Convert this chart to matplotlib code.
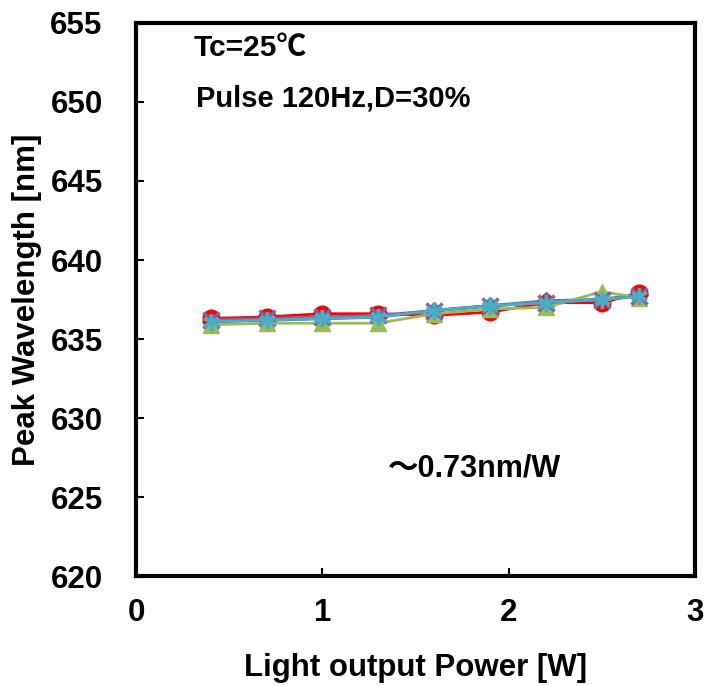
import matplotlib
matplotlib.use("Agg")
import matplotlib.pyplot as plt

plt.rcParams['font.family'] = ['Liberation Sans', 'Noto Sans CJK JP', 'DejaVu Sans']
plt.rcParams['font.weight'] = 'bold'

# Light output power [W]
power = [0.4, 0.7, 1.0, 1.3, 1.6, 1.9, 2.2, 2.5, 2.7]

# Peak wavelength [nm] for each sample
wl_blue = [636.1, 636.2, 636.3, 636.4, 636.8, 637.1, 637.4, 637.5, 637.8]
wl_red = [636.3, 636.4, 636.6, 636.6, 636.5, 636.7, 637.3, 637.3, 637.9]
wl_green = [635.9, 636.0, 636.0, 636.0, 636.6, 636.9, 637.0, 638.0, 637.6]
wl_purple = [636.2, 636.3, 636.4, 636.5, 636.8, 637.1, 637.3, 637.5, 637.7]
wl_cyan = [636.1, 636.2, 636.3, 636.4, 636.8, 637.1, 637.3, 637.5, 637.7]

xticks = [0, 1, 2, 3]
yticks = [620, 625, 630, 635, 640, 645, 650, 655]

fig = plt.figure(figsize=(7.05, 6.86), dpi=100)
ax = fig.add_axes([0.193, 0.1603, 0.793, 0.8062])

ax.plot(power, wl_blue, color='#4F81BD', lw=2.5, marker='D', ms=9)
ax.plot(power, wl_red, color='#FF0000', lw=2, marker='o', ms=12)
ax.plot(power, wl_green, color='#9BBB59', lw=2, marker='^', ms=12)
ax.plot(power, wl_purple, color='#8064A2', lw=2, marker='x', ms=11, mew=2.5)
ax.plot(power, wl_cyan, color='#4BACC6', lw=2, marker=(6, 2, 0), ms=12, mew=2.5)

ax.set_xlim(0, 3)
ax.set_ylim(620, 655)
ax.set_xticks(xticks)
ax.set_yticks(yticks)
ax.tick_params(direction='in', length=6, width=1.5, labelsize=22.5)
ax.tick_params(axis='x', pad=16)
ax.tick_params(axis='y', pad=24)
for s in ax.spines.values():
    s.set_linewidth(3)

ax.set_xlabel('Light output Power [W]', fontsize=22.5, fontweight='bold', labelpad=18)
ax.set_ylabel('Peak Wavelength [nm]', fontsize=22.5, fontweight='bold', labelpad=6)

ax.text(0.31, 653.4, 'Tc=25℃', fontsize=21.5, fontweight='bold', va='center')
ax.text(0.32, 650.2, 'Pulse 120Hz,D=30%', fontsize=21, fontweight='bold', va='center')
ax.text(1.35, 626.8, '～0.73nm/W', fontsize=22, fontweight='bold', va='center')

fig.savefig('out.png', dpi=100)
